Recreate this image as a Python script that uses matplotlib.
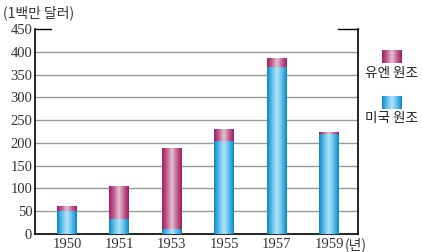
import numpy as np
import matplotlib.pyplot as plt
from matplotlib.colors import LinearSegmentedColormap

years = ['1950', '1951', '1953', '1955', '1957', '1959']
us_aid = [50, 32, 11, 204, 366, 220]
un_aid = [12, 73, 178, 26, 20, 4]
yticks = [0, 50, 100, 150, 200, 250, 300, 350, 400, 450]

kfont = ['Noto Sans CJK KR', 'DejaVu Sans']
nfont = 'Liberation Serif'

blue = LinearSegmentedColormap.from_list('b', ['#0a88c8', '#5fc0ec', '#b4e2f7', '#5fc0ec', '#0a88c8'])
mag = LinearSegmentedColormap.from_list('m', ['#9e1e66', '#c3628f', '#e4c3d3', '#c3628f', '#9e1e66'])
grad = np.linspace(0, 1, 64).reshape(1, -1)

fig = plt.figure(figsize=(4.22, 2.52), dpi=100)
ax = fig.add_axes([0.083, 0.0714, 0.765, 0.8135])

x = np.arange(len(years))
b1 = ax.bar(x, us_aid, width=0.38, color='#0a88c8', zorder=3)
b2 = ax.bar(x, un_aid, width=0.38, bottom=us_aid, color='#9e1e66', zorder=3)

# 막대 위에 그라데이션 입히기
for bars, cm in [(b1, blue), (b2, mag)]:
    for p in bars:
        x0, y0 = p.get_x(), p.get_y()
        im = ax.imshow(grad, cmap=cm, aspect='auto', zorder=4,
                       extent=[x0, x0 + p.get_width(), y0, y0 + p.get_height()])
        im.set_clip_path(p)

ax.set_xlim(-0.61, 5.55)
ax.set_ylim(0, 450)
ax.set_yticks(yticks)
ax.set_yticklabels([str(v) for v in yticks], fontfamily=nfont, fontsize=10.5, color='#333')
ax.set_xticks(x)
ax.set_xticklabels(years, fontfamily=nfont, fontsize=10.5, color='#333')
ax.tick_params(length=0, pad=3)
ax.tick_params(axis='y', pad=2)

for v in yticks[1:-1]:
    ax.axhline(v, color='#999999', lw=1, zorder=1)
ax.plot([0, 0.05], [1, 1], transform=ax.transAxes, color='black', lw=1, clip_on=False)
ax.plot([0.94, 1], [1, 1], transform=ax.transAxes, color='black', lw=1, clip_on=False)

ax.spines['top'].set_visible(False)
for s in ['left', 'right', 'bottom']:
    ax.spines[s].set_color('black')
    ax.spines[s].set_linewidth(1.2)

fig.text(0.008, 0.95, '(1백만 달러)', family=kfont, fontsize=10, color='#333', va='center')
fig.text(0.818, 0.027, '(년)', family=kfont, fontsize=10, color='#333', va='center')

# 범례
lax = fig.add_axes([0.905, 0.75, 0.047, 0.052])
lax.imshow(grad, cmap=mag, aspect='auto')
lax.axis('off')
fig.text(0.928, 0.71, '유엔 원조', family=kfont, fontsize=9.8, ha='center', va='center', color='#222')
lax2 = fig.add_axes([0.905, 0.568, 0.047, 0.052])
lax2.imshow(grad, cmap=blue, aspect='auto')
lax2.axis('off')
fig.text(0.928, 0.53, '미국 원조', family=kfont, fontsize=9.8, ha='center', va='center', color='#222')

fig.savefig('out.png', dpi=100)
